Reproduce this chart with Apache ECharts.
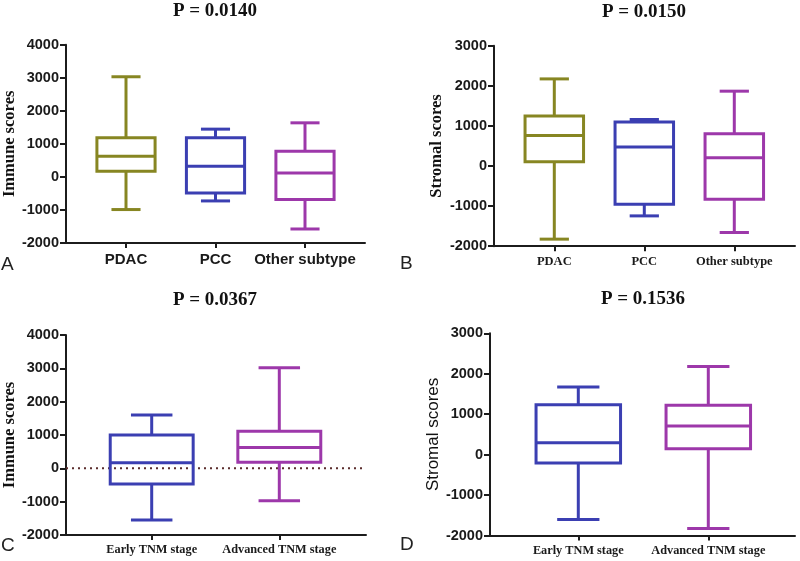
<!DOCTYPE html>
<html>
<head>
<meta charset="utf-8">
<script src="https://cdn.jsdelivr.net/npm/echarts@6/dist/echarts.min.js"></script>
<style>html,body{margin:0;padding:0;background:#fff;}#c{width:800px;height:561px;}</style>
</head>
<body>
<div id="c"></div>
<script>
// ---- data ----
const subtypeCats = ['PDAC', 'PCC', 'Other subtype'];
const stageCats = ['Early TNM stage', 'Advanced TNM stage'];
// [low whisker, Q1, median, Q3, high whisker]
const immuneBySubtype = [[-988, 173, 627, 1182, 3030], [-727, -485, 324, 1182, 1445], [-1576, -685, 121, 779, 1636]];
const stromalBySubtype = [[-1824, 108, 763, 1244, 2172], [-1244, -954, 473, 1100, 1160], [-1658, -829, 207, 804, 1866]];
const immuneByStage = [[-1550, -470, 170, 1000, 1600], [-970, 185, 625, 1110, 3020]];
const stromalByStage = [[-1605, -206, 296, 1235, 1671], [-1827, 148, 708, 1218, 2181]];
const pValues = ['P = 0.0140', 'P = 0.0150', 'P = 0.0367', 'P = 0.1536'];
const panelLetters = ['A', 'B', 'C', 'D'];
const immuneTicks = { min: -2000, max: 4000, interval: 1000 };
const stromalTicks = { min: -2000, max: 3000, interval: 1000 };
const referenceLine = [[0, 0], [1, 0]];

const olive = '#878622', blue = '#3b3fb2', purple = '#9d38aa';
const axisColor = '#1c1c1c';
const SANS = 'Liberation Sans', SERIF = 'Liberation Serif';

const panels = [
  { cats: subtypeCats, data: immuneBySubtype, colors: [olive, blue, purple], ticks: immuneTicks,
    yName: 'Immune scores', nameFont: { fontFamily: SERIF, fontWeight: 'bold', fontSize: 16.5 }, nameGap: 48,
    catFont: { fontFamily: SANS, fontWeight: 'bold', fontSize: 15 },
    frame: { left: 66, top: 44.7, width: 299, height: 198.3 }, inner: { left: 81.25, width: 268.5 },
    titleX: 215, titleY: 2, letterPos: [1, 255] },
  { cats: subtypeCats, data: stromalBySubtype, colors: [olive, blue, purple], ticks: stromalTicks,
    yName: 'Stromal scores', nameFont: { fontFamily: SERIF, fontWeight: 'bold', fontSize: 16.5 }, nameGap: 49,
    catFont: { fontFamily: SERIF, fontWeight: 'bold', fontSize: 12.5 },
    frame: { left: 494, top: 45.7, width: 301, height: 200.5 }, inner: { left: 509.3, width: 270 },
    titleX: 644, titleY: 3, letterPos: [400, 254] },
  { cats: stageCats, data: immuneByStage, colors: [blue, purple], ticks: immuneTicks, zeroLine: true,
    yName: 'Immune scores', nameFont: { fontFamily: SERIF, fontWeight: 'bold', fontSize: 16.5 }, nameGap: 48,
    catFont: { fontFamily: SERIF, fontWeight: 'bold', fontSize: 12.3 },
    frame: { left: 66, top: 335, width: 300, height: 200 }, inner: { left: 87.9, width: 255.2 },
    titleX: 215, titleY: 291, letterPos: [1, 536] },
  { cats: stageCats, data: stromalByStage, colors: [blue, purple], ticks: stromalTicks,
    yName: 'Stromal scores', nameFont: { fontFamily: SANS, fontWeight: 'normal', fontSize: 17 }, nameGap: 48,
    catFont: { fontFamily: SERIF, fontWeight: 'bold', fontSize: 12.3 },
    frame: { left: 490, top: 333.3, width: 305, height: 202.2 }, inner: { left: 513.3, width: 260 },
    titleX: 643, titleY: 290, letterPos: [400, 535] }
];

function renderBox(params, api) {
  const idx = api.value(0);
  const lo = api.coord([idx, api.value(1)]);
  const q1 = api.coord([idx, api.value(2)]);
  const med = api.coord([idx, api.value(3)]);
  const q3 = api.coord([idx, api.value(4)]);
  const hi = api.coord([idx, api.value(5)]);
  const band = api.size([1, 0])[0];
  const w = band * 0.65, cw = w * 0.5, x = med[0];
  const color = api.visual('color');
  const st = { stroke: color, lineWidth: 3, fill: null };
  return {
    type: 'group',
    children: [
      { type: 'line', shape: { x1: x, y1: q3[1], x2: x, y2: hi[1] }, style: st },
      { type: 'line', shape: { x1: x - cw / 2, y1: hi[1], x2: x + cw / 2, y2: hi[1] }, style: st },
      { type: 'line', shape: { x1: x, y1: q1[1], x2: x, y2: lo[1] }, style: st },
      { type: 'line', shape: { x1: x - cw / 2, y1: lo[1], x2: x + cw / 2, y2: lo[1] }, style: st },
      { type: 'rect', shape: { x: x - w / 2, y: q3[1], width: w, height: q1[1] - q3[1] }, style: { stroke: color, lineWidth: 3, fill: 'rgba(0,0,0,0)' } },
      { type: 'line', shape: { x1: x - w / 2, y1: med[1], x2: x + w / 2, y2: med[1] }, style: st }
    ]
  };
}

const option = { animation: false, backgroundColor: '#fff', title: [], grid: [], xAxis: [], yAxis: [], series: [], graphic: [] };

panels.forEach((p, i) => {
  const gF = 2 * i, gI = 2 * i + 1;
  option.title.push({ text: pValues[i], left: p.titleX, top: p.titleY, textAlign: 'center', padding: 0,
    textStyle: { fontFamily: SERIF, fontWeight: 'bold', fontSize: 19, color: '#111' } });
  option.graphic.push({ type: 'text', left: p.letterPos[0], top: p.letterPos[1],
    style: { text: panelLetters[i], font: '19px "Liberation Sans"', fill: '#222' } });
  // frame grid (axes lines + y ticks)
  option.grid.push({ left: p.frame.left, top: p.frame.top, width: p.frame.width, height: p.frame.height, containLabel: false });
  // inner grid (categories)
  option.grid.push({ left: p.inner.left, top: p.frame.top, width: p.inner.width, height: p.frame.height, containLabel: false });
  option.xAxis.push({ gridIndex: gF, type: 'value', min: 0, max: 1,
    axisLine: { show: true, onZero: false, lineStyle: { color: axisColor, width: 2 } },
    axisTick: { show: false }, axisLabel: { show: false }, splitLine: { show: false } });
  option.xAxis.push({ gridIndex: gI, type: 'category', data: p.cats, position: 'bottom',
    axisLine: { show: false, onZero: false }, axisTick: { show: true, alignWithLabel: true, length: 5, lineStyle: { color: axisColor, width: 2 } },
    axisLabel: Object.assign({ color: '#1a1a1a', margin: 9, interval: 0 }, p.catFont), splitLine: { show: false } });
  option.yAxis.push({ gridIndex: gF, type: 'value', min: p.ticks.min, max: p.ticks.max, interval: p.ticks.interval,
    name: p.yName, nameLocation: 'middle', nameGap: p.nameGap, nameRotate: 90,
    nameTextStyle: Object.assign({ color: '#111' }, p.nameFont),
    axisLine: { show: true, onZero: false, lineStyle: { color: axisColor, width: 2 } },
    axisTick: { show: true, length: 6, lineStyle: { color: axisColor, width: 2 } },
    axisLabel: { color: '#1a1a1a', fontFamily: SANS, fontWeight: 'bold', fontSize: 14.5, margin: 7,
      formatter: v => String(v) },
    splitLine: { show: false } });
  option.yAxis.push({ gridIndex: gI, type: 'value', min: p.ticks.min, max: p.ticks.max, interval: p.ticks.interval, show: false });
  if (p.zeroLine) {
    option.series.push({ type: 'line', xAxisIndex: gF, yAxisIndex: gF, data: referenceLine, symbol: 'none', silent: true,
      lineStyle: { color: '#5a2c2c', width: 2, type: [2, 4] }, z: 1 });
  }
  option.series.push({ type: 'custom', xAxisIndex: gI, yAxisIndex: gI, renderItem: renderBox, z: 3,
    encode: { x: 0, y: [1, 2, 3, 4, 5] },
    data: p.data.map((d, k) => ({ value: [k].concat(d), itemStyle: { color: p.colors[k] } })) });
});

const chart = echarts.init(document.getElementById('c'), null, { renderer: 'canvas' });
chart.setOption(option);
</script>
</body>
</html>
